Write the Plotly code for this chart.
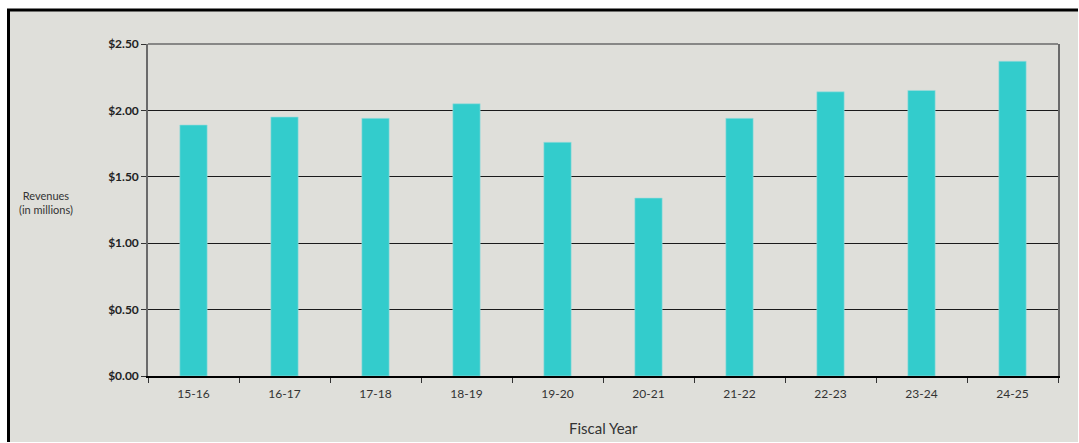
import plotly.graph_objects as go

years = ["15-16", "16-17", "17-18", "18-19", "19-20", "20-21", "21-22", "22-23", "23-24", "24-25"]
revenues = [1.89, 1.95, 1.94, 2.05, 1.76, 1.34, 1.94, 2.14, 2.15, 2.37]
y_tick_vals = [0.0, 0.5, 1.0, 1.5, 2.0, 2.5]
y_tick_text = ["$0.00", "$0.50", "$1.00", "$1.50", "$2.00", "$2.50"]

W, H = 1079, 443
L, R, T, B = 148, 21, 44, 67
PW, PH = W - L - R, H - T - B
BG = "#DFDFDA"
FONT = "Lato, Open Sans, sans-serif"


def px_x(x):
    return (x - L) / PW


def px_y(y):
    return (H - B - y) / PH


fig = go.Figure()
fig.add_trace(go.Bar(
    x=years, y=revenues,
    marker=dict(color="#33CCCC", line=dict(color="#9EDCDC", width=0.6)),
    width=0.3,
))

# panel background
fig.add_shape(type="rect", xref="paper", yref="paper",
              x0=px_x(8), x1=px_x(W - 1), y0=px_y(H - 1), y1=px_y(10),
              fillcolor=BG, line=dict(width=0), layer="below")
# panel border (left and top only visible)
fig.add_shape(type="line", xref="paper", yref="paper",
              x0=px_x(8.5), x1=px_x(8.5), y0=px_y(H - 1), y1=px_y(9),
              line=dict(color="black", width=3))
fig.add_shape(type="line", xref="paper", yref="paper",
              x0=px_x(7), x1=px_x(W - 1), y0=px_y(10), y1=px_y(10),
              line=dict(color="black", width=3))
# top border of plot area
fig.add_shape(type="line", xref="paper", yref="paper", x0=0, x1=1, y0=1, y1=1,
              line=dict(color="#6A6A6A", width=1.5))

fig.add_annotation(text="Revenues<br>(in millions)", xref="paper", yref="paper",
                   x=px_x(46), y=px_y(202),
                   xanchor="center", yanchor="middle", showarrow=False,
                   font=dict(family=FONT, size=11, color="#333"))
fig.add_annotation(text="Fiscal Year", xref="paper", yref="paper",
                   x=0.5, y=px_y(428),
                   xanchor="center", yanchor="middle", showarrow=False,
                   font=dict(family=FONT, size=15, color="#333"))

fig.update_layout(
    width=W, height=H,
    margin=dict(l=L, r=R, t=T, b=B),
    paper_bgcolor="white",
    plot_bgcolor=BG,
    showlegend=False,
    bargap=0.7,
    xaxis=dict(
        type="category",
        automargin=False,
        tickson="boundaries",
        ticks="outside", ticklen=5, tickcolor="#333", tickwidth=1,
        showline=True, linecolor="black", linewidth=1.5,
        showgrid=False,
        ticklabelstandoff=6,
        tickfont=dict(family=FONT, size=12, color="#333"),
    ),
    yaxis=dict(
        range=[0, 2.5],
        automargin=False,
        tickmode="array", tickvals=y_tick_vals, ticktext=y_tick_text,
        ticks="outside", ticklen=5, tickcolor="#333",
        showline=True, linecolor="#6A6A6A", linewidth=1.5, mirror=True,
        showgrid=True, gridcolor="#1A1A1A", gridwidth=1,
        zeroline=False,
        tickfont=dict(family=FONT, size=12, color="#222", weight="bold"),
    ),
)

fig.write_html("out.html")
